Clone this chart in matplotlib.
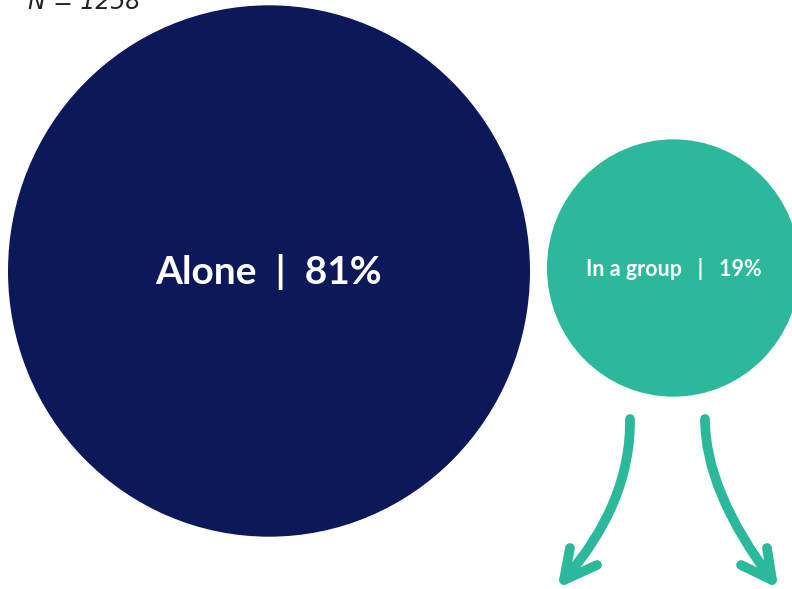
import matplotlib
matplotlib.use("Agg")
import matplotlib.pyplot as plt
import numpy as np
from matplotlib.patches import Ellipse, PathPatch
from matplotlib.path import Path

# survey split, percentages of respondents
labels = ["Alone", "In a group"]
shares = [81, 19]
n_total = 1258

NAVY = "#0C1859"
TEAL = "#2BB89B"

fig = plt.figure(figsize=(7.92, 5.89), dpi=100)
ax = fig.add_axes([0, 0, 1, 1])
ax.set_xlim(0, 792)
ax.set_ylim(589, 0)
ax.axis("off")

# bubble radii scale with sqrt(share) so area tracks the percentage
r_big = 261
stretch = 1.018
radii = [r_big * np.sqrt(s / shares[0]) for s in shares]
centers = [(269, 271), (547 + radii[1], 268)]
colors = [NAVY, TEAL]
sizes = [28, 15.5]
gaps = ["  ", "   "]

for lab, s, r, (cx, cy), col, fs, gap in zip(labels, shares, radii, centers,
                                             colors, sizes, gaps):
    ax.add_patch(Ellipse((cx, cy), 2 * r, 2 * r * stretch, facecolor=col,
                         edgecolor="none"))
    ax.text(cx, cy + 1, f"{lab}{gap}|{gap}{s}%", color="white", fontsize=fs,
            fontweight="bold", family="Lato", ha="center", va="center")

# sample size note, partly running off the top edge
ax.text(28, 9, f"N = {n_total}", fontsize=17, style="italic",
        color="#222222", ha="left", va="baseline")


def curved_arrow(start, ctrl, tip, arms):
    shaft = Path([start, ctrl, tip], [Path.MOVETO, Path.CURVE3, Path.CURVE3])
    ax.add_patch(PathPatch(shaft, facecolor="none", edgecolor=TEAL, lw=7,
                           capstyle="round", joinstyle="round"))
    head = Path([arms[0], tip, arms[1]],
                [Path.MOVETO, Path.LINETO, Path.LINETO])
    ax.add_patch(PathPatch(head, facecolor="none", edgecolor=TEAL, lw=7,
                           capstyle="round", joinstyle="round"))


curved_arrow((630, 419), (631, 503), (564, 580), [(570, 548), (597, 565)])
curved_arrow((705, 419), (705, 491), (772, 580), [(767, 548), (741, 565)])

fig.savefig("out.png", dpi=100)
